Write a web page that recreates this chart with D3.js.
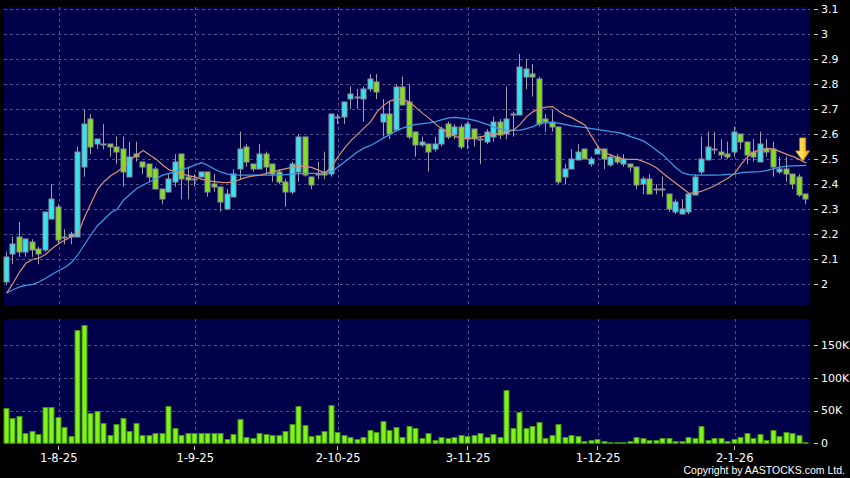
<!DOCTYPE html>
<html><head><meta charset="utf-8">
<script src="https://cdn.jsdelivr.net/npm/d3@7"></script>
<style>html,body{margin:0;padding:0;background:#000;}svg{display:block;}</style>
</head><body><svg id="c" width="850" height="478"></svg>
<script>
const dates = [
"22-7-25","23-7-25","24-7-25","25-7-25","28-7-25","29-7-25","30-7-25","31-7-25",
"1-8-25","4-8-25","5-8-25","6-8-25","7-8-25","8-8-25","11-8-25","12-8-25","13-8-25","14-8-25","15-8-25","18-8-25","19-8-25","20-8-25","21-8-25","22-8-25","25-8-25","26-8-25","27-8-25","28-8-25","29-8-25",
"1-9-25","2-9-25","3-9-25","4-9-25","5-9-25","8-9-25","9-9-25","10-9-25","11-9-25","12-9-25","15-9-25","16-9-25","17-9-25","18-9-25","19-9-25","22-9-25","23-9-25","24-9-25","25-9-25","26-9-25","29-9-25","30-9-25",
"2-10-25","3-10-25","6-10-25","8-10-25","9-10-25","10-10-25","13-10-25","14-10-25","15-10-25","16-10-25","17-10-25","20-10-25","21-10-25","22-10-25","23-10-25","24-10-25","27-10-25","28-10-25","30-10-25","31-10-25",
"3-11-25","4-11-25","5-11-25","6-11-25","7-11-25","10-11-25","11-11-25","12-11-25","13-11-25","14-11-25","17-11-25","18-11-25","19-11-25","20-11-25","21-11-25","24-11-25","25-11-25","26-11-25","27-11-25","28-11-25",
"1-12-25","2-12-25","3-12-25","4-12-25","5-12-25","8-12-25","9-12-25","10-12-25","11-12-25","12-12-25","15-12-25","16-12-25","17-12-25","18-12-25","19-12-25","22-12-25","23-12-25","24-12-25","29-12-25","30-12-25","31-12-25",
"2-1-26","5-1-26","6-1-26","7-1-26","8-1-26","9-1-26","12-1-26","13-1-26","14-1-26","15-1-26","16-1-26","19-1-26"];

const openP = [2.01,2.12,2.19,2.13,2.17,2.14,2.14,2.26,2.31,2.19,2.19,2.19,2.47,2.66,2.56,2.56,2.56,2.55,2.54,2.43,
2.52,2.49,2.48,2.46,2.38,2.37,2.41,2.52,2.43,2.42,2.43,2.45,2.40,2.39,2.30,2.35,2.46,2.55,2.48,2.46,
2.52,2.48,2.45,2.41,2.37,2.45,2.59,2.43,2.44,2.45,2.44,2.67,2.67,2.74,2.75,2.74,2.78,2.81,2.65,2.68,
2.62,2.79,2.73,2.61,2.56,2.56,2.54,2.56,2.64,2.60,2.63,2.58,2.62,2.58,2.57,2.59,2.65,2.60,2.68,2.68,
2.83,2.84,2.82,2.66,2.65,2.63,2.43,2.46,2.50,2.54,2.48,2.52,2.54,2.48,2.51,2.48,2.48,2.47,2.40,2.42,
2.38,2.38,2.36,2.29,2.28,2.29,2.36,2.45,2.50,2.54,2.53,2.52,2.53,2.60,2.57,2.53,2.49,2.54,2.54,2.45,
2.46,2.44,2.43,2.36];
const highP = [2.13,2.19,2.25,2.18,2.18,2.15,2.29,2.40,2.32,2.22,2.21,2.55,2.70,2.68,2.58,2.64,2.56,2.59,2.59,2.57,
2.57,2.49,2.48,2.47,2.38,2.44,2.52,2.52,2.47,2.44,2.45,2.45,2.44,2.39,2.38,2.46,2.61,2.56,2.48,2.56,
2.53,2.48,2.46,2.42,2.49,2.60,2.59,2.43,2.49,2.53,2.68,2.68,2.73,2.79,2.78,2.79,2.84,2.84,2.74,2.73,
2.80,2.83,2.80,2.61,2.59,2.56,2.59,2.63,2.65,2.64,2.64,2.65,2.62,2.59,2.62,2.67,2.66,2.79,2.69,2.92,
2.90,2.88,2.83,2.68,2.70,2.63,2.48,2.54,2.56,2.54,2.51,2.55,2.54,2.52,2.52,2.52,2.48,2.47,2.43,2.44,
2.40,2.43,2.36,2.34,2.34,2.36,2.44,2.59,2.61,2.61,2.58,2.57,2.63,2.60,2.57,2.58,2.61,2.58,2.57,2.51,
2.51,2.44,2.44,2.36];
const lowP = [2.00,2.08,2.11,2.11,2.11,2.08,2.13,2.26,2.16,2.16,2.16,2.19,2.43,2.52,2.54,2.54,2.51,2.48,2.39,2.43,
2.49,2.44,2.41,2.38,2.32,2.37,2.39,2.34,2.34,2.39,2.43,2.35,2.37,2.29,2.30,2.35,2.42,2.47,2.45,2.46,
2.44,2.41,2.40,2.31,2.36,2.41,2.43,2.38,2.42,2.42,2.43,2.64,2.64,2.70,2.70,2.65,2.77,2.74,2.59,2.58,
2.61,2.72,2.58,2.51,2.55,2.45,2.53,2.55,2.58,2.58,2.54,2.54,2.55,2.48,2.56,2.57,2.58,2.58,2.59,2.68,
2.78,2.75,2.63,2.61,2.61,2.40,2.40,2.46,2.50,2.50,2.47,2.52,2.46,2.47,2.48,2.47,2.45,2.38,2.36,2.36,
2.36,2.35,2.29,2.28,2.28,2.28,2.36,2.44,2.50,2.52,2.50,2.50,2.51,2.54,2.48,2.49,2.49,2.51,2.43,2.44,
2.41,2.38,2.35,2.32];
const closeP = [2.11,2.16,2.13,2.18,2.14,2.12,2.29,2.34,2.18,2.19,2.20,2.53,2.64,2.55,2.58,2.56,2.55,2.53,2.45,2.51,
2.51,2.47,2.43,2.38,2.34,2.42,2.49,2.42,2.42,2.42,2.45,2.37,2.39,2.33,2.36,2.44,2.54,2.49,2.46,2.52,
2.47,2.44,2.41,2.37,2.48,2.59,2.44,2.40,2.44,2.44,2.68,2.67,2.73,2.76,2.75,2.78,2.82,2.77,2.68,2.60,
2.79,2.72,2.59,2.56,2.57,2.53,2.56,2.62,2.59,2.63,2.55,2.64,2.58,2.58,2.61,2.65,2.60,2.66,2.68,2.87,
2.86,2.83,2.64,2.65,2.63,2.41,2.46,2.50,2.53,2.50,2.50,2.54,2.50,2.51,2.49,2.50,2.47,2.40,2.42,2.36,
2.38,2.375,2.30,2.33,2.30,2.36,2.43,2.50,2.55,2.54,2.52,2.51,2.61,2.57,2.52,2.51,2.56,2.53,2.47,2.46,
2.44,2.40,2.36,2.34];

const maShort = [1.965,2.005,2.05,2.085,2.10,2.105,2.12,2.143,2.163,2.177,2.19,2.204,2.27,2.325,2.38,2.411,2.434,2.45,2.47,2.497,
2.517,2.535,2.517,2.50,2.477,2.457,2.45,2.44,2.434,2.428,2.42,2.413,2.41,2.407,2.406,2.41,2.42,2.428,2.433,2.436,
2.443,2.45,2.456,2.462,2.468,2.473,2.471,2.466,2.455,2.445,2.47,2.51,2.545,2.575,2.60,2.625,2.65,2.69,2.715,2.733,
2.74,2.738,2.728,2.705,2.683,2.663,2.64,2.62,2.605,2.59,2.585,2.583,2.585,2.59,2.595,2.60,2.603,2.61,2.616,2.64,
2.67,2.69,2.703,2.708,2.71,2.69,2.675,2.665,2.65,2.636,2.59,2.548,2.525,2.516,2.505,2.50,2.499,2.499,2.49,2.48,
2.465,2.443,2.423,2.403,2.383,2.363,2.365,2.373,2.383,2.395,2.41,2.425,2.443,2.48,2.51,2.53,2.537,2.543,2.54,2.53,
2.519,2.51,2.498,2.485];
const maLong = [1.965,1.978,1.99,1.996,2.00,2.01,2.024,2.04,2.055,2.068,2.088,2.12,2.16,2.20,2.235,2.26,2.286,2.30,2.337,2.36,
2.383,2.397,2.41,2.423,2.436,2.443,2.45,2.46,2.466,2.477,2.486,2.475,2.46,2.448,2.44,2.437,2.436,2.436,2.436,2.436,
2.436,2.436,2.437,2.438,2.44,2.442,2.443,2.443,2.443,2.443,2.45,2.47,2.49,2.51,2.53,2.545,2.555,2.57,2.585,2.60,
2.615,2.625,2.633,2.639,2.642,2.645,2.65,2.658,2.665,2.667,2.664,2.66,2.655,2.647,2.638,2.628,2.62,2.616,2.615,2.616,
2.622,2.63,2.643,2.645,2.646,2.643,2.638,2.633,2.63,2.626,2.622,2.618,2.614,2.61,2.607,2.60,2.59,2.582,2.572,2.555,
2.535,2.516,2.49,2.465,2.445,2.438,2.436,2.436,2.436,2.436,2.437,2.439,2.44,2.446,2.448,2.449,2.45,2.455,2.462,2.468,
2.472,2.473,2.474,2.475];

// volume in thousands of shares
const volume = [53.6,39,42,15,19,14,55,56,40,25,11,173,181,46,49,31,13,30,38,19,
31,13,13,15,16,57,24,13,15,15,15,15,15,16,7,14,37,10,8,16,
14,13,12,19,29,57,28,11,12,19,59,17,13,9,6,9,20,17,34,20,
25,10,27,24,8,16,5,10,8,10,13,11,13,15,9,14,9,82,23,48,
24,26,33,8,13,29,10,12,11,4,5,6,4,1.5,1.5,1.5,4,9,8,5,
5,8,8,4,4,9,8,27,5,8,8,3,6,9,16,8,14,5,21,11,
17,15,13,1.5];

const priceTicks = [2,2.1,2.2,2.3,2.4,2.5,2.6,2.7,2.8,2.9,3,3.1];
const volTicks = [0,50,100,150];
const dateTicks = ["1-8-25","1-9-25","2-10-25","3-11-25","1-12-25","2-1-26"];

const svg = d3.select("#c");
const C = {bg:"#000000", panel:"#00004a", grid:"#50508e", up:"#33e4f0", down:"#80e020",
  edge:"#8e8e9a", wick:"#a0a0ac", maS:"#d89170", maL:"#3a9ee6", vol:"#82f21e", volEdge:"#3f8f12", text:"#ffffff"};
const P = {l:4, r:810, pt:7, pb:305, vt:319, vb:444};

const x = d3.scalePoint().domain(dates).range([P.l - 0.55, P.r - 0.55]).padding(0.5);
const y = d3.scaleLinear().domain([2, 3.1]).range([284.3, 9]);
const yv = d3.scaleLinear().domain([0, 190]).range([443.3, 319]);

svg.append("rect").attr("width",850).attr("height",478).attr("fill",C.bg);
svg.append("rect").attr("x",P.l).attr("y",P.pt).attr("width",P.r-P.l).attr("height",P.pb-P.pt).attr("fill",C.panel);
svg.append("rect").attr("x",P.l).attr("y",P.vt).attr("width",P.r-P.l).attr("height",P.vb-P.vt).attr("fill",C.panel);

const cx = d => Math.round(x(d));

// grid
const g = svg.append("g").attr("stroke",C.grid).attr("stroke-dasharray","3,3").attr("stroke-width",1);
priceTicks.forEach(t => g.append("line").attr("x1",P.l).attr("x2",P.r)
  .attr("y1",Math.round(y(t))+0.5).attr("y2",Math.round(y(t))+0.5));
volTicks.filter(t=>t>0).forEach(t => g.append("line").attr("x1",P.l).attr("x2",P.r)
  .attr("y1",Math.round(yv(t))+0.5).attr("y2",Math.round(yv(t))+0.5));
dateTicks.forEach(d => {
  g.append("line").attr("x1",cx(d)+0.5).attr("x2",cx(d)+0.5).attr("y1",P.pt).attr("y2",P.pb);
  g.append("line").attr("x1",cx(d)+0.5).attr("x2",cx(d)+0.5).attr("y1",P.vt).attr("y2",P.vb);
});

// candles
const idx = d3.range(dates.length);
const cg = svg.append("g");
cg.selectAll("line.w").data(idx).join("line")
  .attr("x1",i=>cx(dates[i])-0.5).attr("x2",i=>cx(dates[i])-0.5)
  .attr("y1",i=>y(highP[i])).attr("y2",i=>y(lowP[i]))
  .attr("stroke",C.wick).attr("stroke-width",1);
cg.selectAll("rect.b").data(idx).join("rect")
  .attr("x",i=>cx(dates[i])-3)
  .attr("width",5)
  .attr("y",i=>Math.round(y(Math.max(openP[i],closeP[i]))))
  .attr("height",i=>Math.max(1, Math.round(Math.abs(y(openP[i])-y(closeP[i])))))
  .attr("fill",i=>closeP[i]>openP[i]?C.up:(closeP[i]<openP[i]?C.down:C.edge))
  .attr("stroke",C.edge).attr("stroke-width",1);

// moving averages
const line = d3.line().x((v,i)=>x(dates[i])).y(v=>y(v));
svg.append("path").attr("d",line(maLong)).attr("fill","none").attr("stroke",C.maL).attr("stroke-width",1.2);
svg.append("path").attr("d",line(maShort)).attr("fill","none").attr("stroke",C.maS).attr("stroke-width",1.2);

// volume bars
svg.append("g").selectAll("rect").data(idx).join("rect")
  .attr("x",i=>cx(dates[i])-3).attr("width",5)
  .attr("y",i=>Math.round(yv(volume[i]))+0.5)
  .attr("height",i=>Math.max(0.5, yv(0)-Math.round(yv(volume[i]))-0.5))
  .attr("fill",C.vol).attr("stroke",C.volEdge).attr("stroke-width",1);

// arrow marker at last MA
const defs = svg.append("defs");
const gr = defs.append("linearGradient").attr("id","ag").attr("x1",0).attr("x2",1).attr("y1",0).attr("y2",0);
gr.append("stop").attr("offset","0").attr("stop-color","#fff6b0");
gr.append("stop").attr("offset","0.55").attr("stop-color","#ffd23a");
gr.append("stop").attr("offset","1").attr("stop-color","#e89a00");
const last = dates.length-1;
const tx = x(dates[last]) - 3.5, ty = y(maShort[last]) - 2;
svg.append("path")
  .attr("d",`M${tx-3},${ty-23}L${tx+3},${ty-23}L${tx+3},${ty-10}L${tx+7},${ty-10}L${tx},${ty}L${tx-7},${ty-10}L${tx-3},${ty-10}Z`)
  .attr("fill","url(#ag)").attr("stroke","#c98a00").attr("stroke-width",0.8);

// right axes
const ax = svg.append("g").attr("font-family","'DejaVu Sans', Verdana, sans-serif").attr("font-size",11).attr("fill",C.text);
priceTicks.forEach(t => {
  ax.append("line").attr("x1",814).attr("x2",818).attr("y1",Math.round(y(t))+0.5).attr("y2",Math.round(y(t))+0.5).attr("stroke","#c8c8c8");
  ax.append("text").attr("x",821).attr("y",y(t)).attr("dy","0.35em").text(d3.format("~g")(t));
});
volTicks.forEach(t => {
  ax.append("line").attr("x1",814).attr("x2",818).attr("y1",Math.round(yv(t))+0.5).attr("y2",Math.round(yv(t))+0.5).attr("stroke","#c8c8c8");
  ax.append("text").attr("x",821).attr("y",yv(t)).attr("dy","0.35em").text(t===0?"0":t+"K");
});
// date axis
const dx = svg.append("g").attr("font-family","'DejaVu Sans', Verdana, sans-serif").attr("font-size",11.5).attr("fill",C.text);
dateTicks.forEach(d => {
  dx.append("line").attr("x1",cx(d)-0.5).attr("x2",cx(d)-0.5).attr("y1",446).attr("y2",450).attr("stroke","#c8c8c8");
  dx.append("text").attr("x",x(d)).attr("y",462).attr("text-anchor","middle").text(d);
});
svg.append("text").attr("x",845).attr("y",474).attr("text-anchor","end")
  .attr("font-family","'Liberation Sans', Arial, sans-serif").attr("font-size",10.5).attr("fill",C.text)
  .text("Copyright by AASTOCKS.com Ltd.");
</script></body></html>
